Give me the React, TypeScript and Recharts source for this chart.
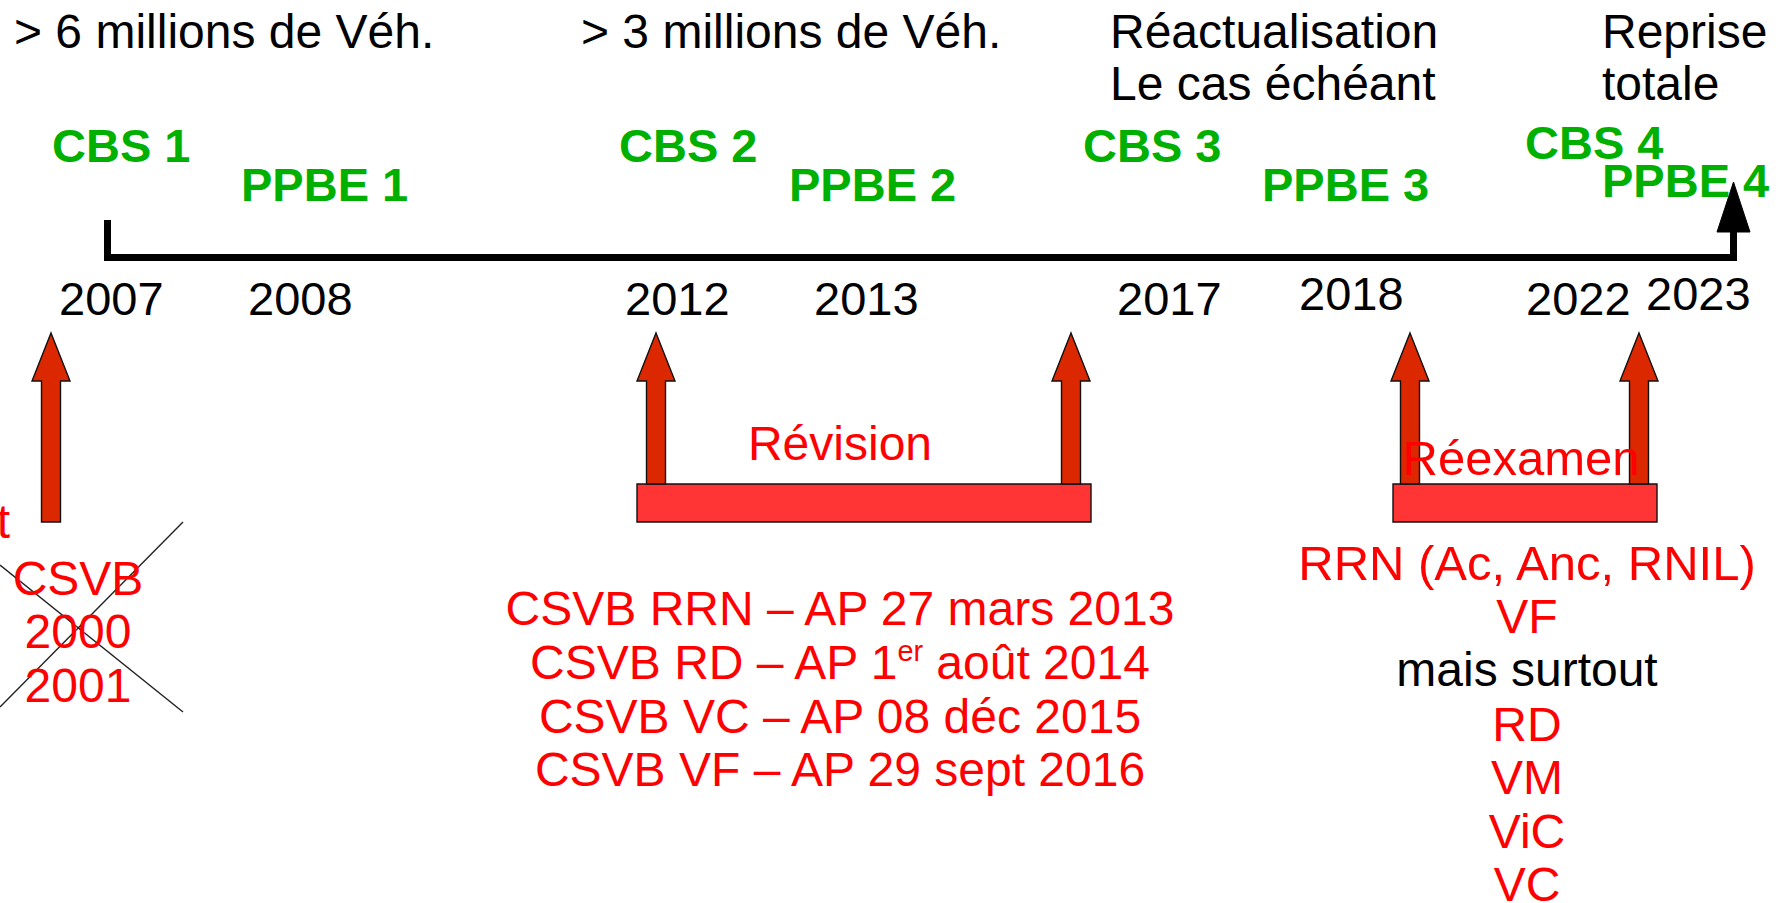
import React from 'react';
import {
  ComposedChart,
  XAxis,
  YAxis,
  Line,
  Scatter,
  ReferenceArea,
  ReferenceLine,
} from 'recharts';

const W = 1782;
const H = 903;
const X_DOMAIN: [number, number] = [0, 1782];
const Y_DOMAIN: [number, number] = [0, 903];
const K = H / (Y_DOMAIN[1] - Y_DOMAIN[0]);
const FONT = "'Liberation Sans', Arial, Helvetica, sans-serif";

// Timeline (x = position along the diagram, y = depth from top)
const timelinePath = [
  { x: 107.5, y: 220 },
  { x: 107.5, y: 257.5 },
  { x: 1733.5, y: 257.5 },
  { x: 1733.5, y: 230 },
];
const timelineHead = [{ x: 1733.5, y: 182, base: 232 }];

// Black notes above the timeline
const topNotes = [
  { x: 14, y: 48, text: '> 6 millions de Véh.' },
  { x: 581, y: 48, text: '> 3 millions de Véh.' },
  { x: 1110, y: 48, text: 'Réactualisation' },
  { x: 1110, y: 100, text: 'Le cas échéant' },
  { x: 1602, y: 48, text: 'Reprise' },
  { x: 1602, y: 100, text: 'totale' },
];

// Green programme labels
const programmes = [
  { x: 52, y: 162, text: 'CBS 1' },
  { x: 241, y: 201, text: 'PPBE 1' },
  { x: 619, y: 162, text: 'CBS 2' },
  { x: 789, y: 201, text: 'PPBE 2' },
  { x: 1083, y: 162, text: 'CBS 3' },
  { x: 1262, y: 201, text: 'PPBE 3' },
  { x: 1525, y: 159, text: 'CBS 4' },
  { x: 1602, y: 197, text: 'PPBE 4' },
];

// Year tick labels
const years = [
  { x: 59, y: 315, text: '2007' },
  { x: 248, y: 315, text: '2008' },
  { x: 625, y: 315, text: '2012' },
  { x: 814, y: 315, text: '2013' },
  { x: 1117, y: 315, text: '2017' },
  { x: 1299, y: 310, text: '2018' },
  { x: 1526, y: 315, text: '2022' },
  { x: 1646, y: 310, text: '2023' },
];

// Red up-arrows (tip, head base, bottom)
const upArrows = [
  { x: 51, y: 333, head: 381, bottom: 522 },
  { x: 656, y: 333, head: 381, bottom: 484 },
  { x: 1071, y: 333, head: 381, bottom: 484 },
  { x: 1410, y: 333, head: 381, bottom: 484 },
  { x: 1639, y: 333, head: 381, bottom: 484 },
];

// Red period bars
const periodBars = [
  { x1: 637, x2: 1091, y1: 484, y2: 522 },
  { x1: 1393, x2: 1657, y1: 484, y2: 522 },
];

// Crossed-out block
const crossLines = [
  [{ x: 0, y: 565 }, { x: 183, y: 712 }],
  [{ x: 0, y: 707 }, { x: 183, y: 522 }],
];

// Red notes (centred)
const redNotes = [
  { x: 10, y: 538, text: 't', anchor: 'end' },
  { x: 78, y: 595, text: 'CSVB' },
  { x: 78, y: 648, text: '2000' },
  { x: 78, y: 702, text: '2001' },
  { x: 840, y: 460, text: 'Révision' },
  { x: 840, y: 625, text: 'CSVB RRN – AP 27 mars 2013' },
  { x: 840, y: 679, text: 'CSVB RD – AP 1', sup: 'er', rest: ' août 2014' },
  { x: 840, y: 733, text: 'CSVB VC – AP 08 déc 2015' },
  { x: 840, y: 786, text: 'CSVB VF – AP 29 sept 2016' },
  { x: 1527, y: 633, text: 'VF' },
  { x: 1527, y: 741, text: 'RD' },
  { x: 1527, y: 794, text: 'VM' },
  { x: 1527, y: 848, text: 'ViC' },
  { x: 1527, y: 901, text: 'VC' },
];
const redWideNotes = [
  { x: 1521, y: 475, text: 'Réexamen' },
  { x: 1527, y: 580, text: 'RRN (Ac, Anc, RNIL)' },
];
const blackNotes = [{ x: 1527, y: 686, text: 'mais surtout' }];

const makeText =
  (opts: { fill: string; weight?: string; size: number; anchor: string }) =>
  (props: any) => {
    const { cx, cy, payload } = props;
    const anchor = payload.anchor || opts.anchor;
    return (
      <text
        x={cx}
        y={cy}
        fill={opts.fill}
        fontFamily={FONT}
        fontWeight={opts.weight || 'normal'}
        fontSize={opts.size}
        textAnchor={anchor}
      >
        {payload.text}
        {payload.sup ? (
          <tspan fontSize={opts.size * 0.6} dy={-opts.size * 0.38}>
            {payload.sup}
          </tspan>
        ) : null}
        {payload.rest ? (
          <tspan dy={opts.size * 0.38}>{payload.rest}</tspan>
        ) : null}
      </text>
    );
  };

const ArrowShape = (props: any) => {
  const { cx, cy, payload } = props;
  const hb = cy + (payload.head - payload.y) * K;
  const bt = cy + (payload.bottom - payload.y) * K;
  const hw = 19;
  const sw = 9.5;
  const pts = [
    [cx, cy],
    [cx + hw, hb],
    [cx + sw, hb],
    [cx + sw, bt],
    [cx - sw, bt],
    [cx - sw, hb],
    [cx - hw, hb],
  ]
    .map((p) => p.join(','))
    .join(' ');
  return <polygon points={pts} fill="#dc2800" stroke="#111" strokeWidth={1.4} />;
};

const HeadShape = (props: any) => {
  const { cx, cy, payload } = props;
  const b = cy + (payload.base - payload.y) * K;
  const hw = 16.5;
  return (
    <polygon
      points={`${cx},${cy} ${cx + hw},${b} ${cx - hw},${b}`}
      fill="#000"
      stroke="#000"
      strokeWidth={1}
    />
  );
};

export default function App() {
  return (
    <div style={{ position: 'absolute', left: 0, top: 0, width: W, height: H, background: '#fff' }}>
      <ComposedChart width={W} height={H} margin={{ top: 0, right: 0, bottom: 0, left: 0 }}>
        <XAxis type="number" dataKey="x" domain={X_DOMAIN} hide allowDataOverflow />
        <YAxis type="number" dataKey="y" domain={Y_DOMAIN} reversed hide allowDataOverflow />

        {periodBars.map((b, i) => (
          <ReferenceArea
            key={'bar' + i}
            x1={b.x1}
            x2={b.x2}
            y1={b.y1}
            y2={b.y2}
            fill="#ff3535"
            fillOpacity={1}
            stroke="#111"
            strokeWidth={1.4}
            ifOverflow="visible"
          />
        ))}

        {crossLines.map((seg, i) => (
          <ReferenceLine
            key={'cross' + i}
            segment={seg}
            stroke="#222"
            strokeWidth={1.4}
            ifOverflow="visible"
          />
        ))}

        <Line
          data={timelinePath}
          dataKey="y"
          type="linear"
          stroke="#000"
          strokeWidth={7}
          strokeLinejoin="miter"
          strokeLinecap="butt"
          dot={false}
          activeDot={false}
          isAnimationActive={false}
        />
        <Scatter data={timelineHead} shape={HeadShape} isAnimationActive={false} />
        <Scatter data={upArrows} shape={ArrowShape} isAnimationActive={false} />

        <Scatter
          data={topNotes}
          shape={makeText({ fill: '#000', size: 48, anchor: 'start' })}
          isAnimationActive={false}
        />
        <Scatter
          data={programmes}
          shape={makeText({ fill: '#00b000', size: 47, weight: 'bold', anchor: 'start' })}
          isAnimationActive={false}
        />
        <Scatter
          data={years}
          shape={makeText({ fill: '#000', size: 47, anchor: 'start' })}
          isAnimationActive={false}
        />
        <Scatter
          data={redNotes}
          shape={makeText({ fill: '#ff0000', size: 48, anchor: 'middle' })}
          isAnimationActive={false}
        />
        <Scatter
          data={redWideNotes}
          shape={makeText({ fill: '#ff0000', size: 49, anchor: 'middle' })}
          isAnimationActive={false}
        />
        <Scatter
          data={blackNotes}
          shape={makeText({ fill: '#000', size: 48, anchor: 'middle' })}
          isAnimationActive={false}
        />
      </ComposedChart>
    </div>
  );
}
